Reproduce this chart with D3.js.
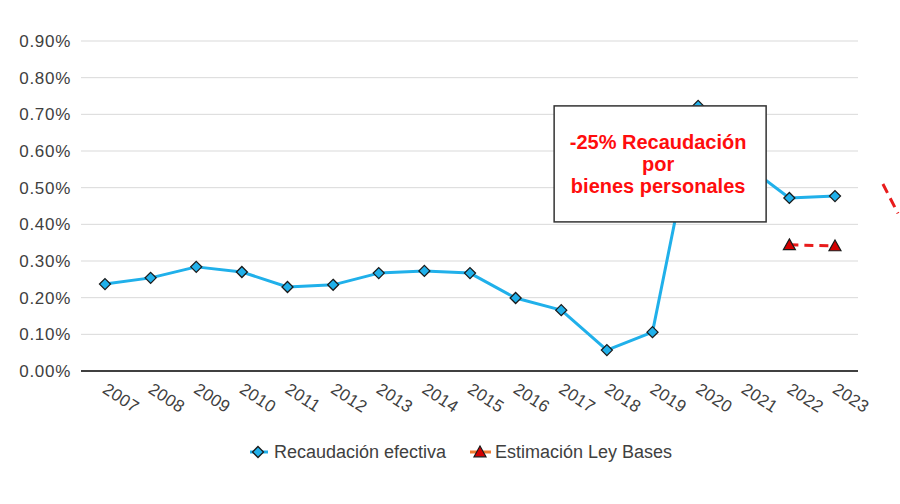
<!DOCTYPE html>
<html><head><meta charset="utf-8">
<script src="https://cdn.jsdelivr.net/npm/d3@7"></script>
<style>body{margin:0;background:#fff;} svg{display:block;font-family:"Liberation Sans",Arial,sans-serif;}</style>
</head><body>
<svg id="c" width="900" height="504"></svg>
<script>
const years = ["2007","2008","2009","2010","2011","2012","2013","2014","2015","2016","2017","2018","2019","2020","2021","2022","2023"];
const recaudacion = [0.237,0.254,0.284,0.270,0.229,0.235,0.267,0.273,0.267,0.199,0.166,0.057,0.106,0.723,0.565,0.472,0.477];
const estimacionYears = ["2022","2023"];
const estimacion = [0.344,0.341];
const yTicks = [0,0.1,0.2,0.3,0.4,0.5,0.6,0.7,0.8,0.9];
const annotationLines = ["-25% Recaudación","por","bienes personales"];
const legendLabels = ["Recaudación efectiva","Estimación Ley Bases"];
// stray dashed stroke at right edge (category-index units, value)
const strayIdx = [17.05, 17.38];
const strayVal = [0.51, 0.43];

const svg = d3.select("#c");
const x = d3.scalePoint().domain(years).range([105,835]);
const step = x.step();
const xi = i => x(years[0]) + i*step;
const y = d3.scaleLinear().domain([0,0.9]).range([371,41]);
const plotL = 81, plotR = 858;
const FF = "Liberation Sans, Arial, sans-serif";

// gridlines
svg.append("g").selectAll("line").data(yTicks.filter(d=>d>0)).join("line")
  .attr("x1",plotL).attr("x2",plotR).attr("y1",d=>y(d)).attr("y2",d=>y(d))
  .attr("stroke","#d9d9d9").attr("stroke-width",1);

// y axis labels
const yAxis = d3.axisLeft(y).tickValues(yTicks).tickFormat(d=>d.toFixed(2)+"%").tickSize(0).tickPadding(10);
const gy = svg.append("g").attr("transform",`translate(${plotL},0)`).call(yAxis);
gy.select(".domain").remove();
gy.selectAll("text").attr("font-size",17).attr("fill","#404040").attr("font-family",FF)
  .attr("letter-spacing",0.7);

// x axis
const xAxis = d3.axisBottom(x).tickSize(0).tickPadding(0);
const gx = svg.append("g").attr("transform",`translate(0,${y(0)})`).call(xAxis);
gx.select(".domain").remove();
gx.selectAll("text").attr("font-size",17).attr("fill","#404040")
  .attr("font-family",FF).attr("letter-spacing",0.3)
  .attr("text-anchor","start").attr("dy",null).attr("y",null)
  .attr("transform","translate(-4,21) rotate(33)");
svg.append("line").attr("x1",plotL).attr("x2",plotR).attr("y1",y(0)).attr("y2",y(0))
  .attr("stroke","#404040").attr("stroke-width",2);

// main series
const blue = "#20b0ea";
const line = d3.line().x((d,i)=>x(years[i])).y(d=>y(d));
svg.append("path").datum(recaudacion).attr("d",line).attr("fill","none")
  .attr("stroke",blue).attr("stroke-width",3).attr("stroke-linejoin","round");
function diamondPath(s){ return `M0,${-s}L${s},0L0,${s}L${-s},0Z`; }
svg.append("g").selectAll("path").data(recaudacion).join("path")
  .attr("d",diamondPath(5.5))
  .attr("transform",(d,i)=>`translate(${x(years[i])},${y(d)})`)
  .attr("fill",blue).attr("stroke","#1a1a1a").attr("stroke-width",1.3);

// estimation series
const red = "#e81c1c";
const line2 = d3.line().x((d,i)=>x(estimacionYears[i])).y(d=>y(d));
svg.append("path").datum(estimacion).attr("d",line2).attr("fill","none")
  .attr("stroke",red).attr("stroke-width",3).attr("stroke-dasharray","9,6");
function triPath(s){ return `M0,${-s}L${s},${s*0.8}L${-s},${s*0.8}Z`; }
svg.append("g").selectAll("path").data(estimacion).join("path")
  .attr("d",triPath(6))
  .attr("transform",(d,i)=>`translate(${x(estimacionYears[i])},${y(d)})`)
  .attr("fill","#d40000").attr("stroke","#1a1a1a").attr("stroke-width",1.2);

// stray dashed stroke
svg.append("path").datum(strayIdx.map((v,i)=>[xi(v),y(strayVal[i])]))
  .attr("d",d3.line()).attr("fill","none").attr("stroke",red).attr("stroke-width",3).attr("stroke-dasharray","10,6");

// annotation box (anchored to 2020 point)
const bx = x("2020") - 144, by = y(recaudacion[13]);
svg.append("rect").attr("x",bx).attr("y",by).attr("width",212).attr("height",116)
  .attr("fill","#fff").attr("stroke","#333").attr("stroke-width",1.5);
svg.append("g").selectAll("text").data(annotationLines).join("text")
  .attr("x",bx+104).attr("y",(d,i)=>by+43+i*22)
  .attr("text-anchor","middle").attr("font-size",20).attr("font-weight","bold")
  .attr("font-family",FF).attr("fill","#ff0d0d").text(d=>d);

// legend
const lg = svg.append("g").attr("font-size",18).attr("fill","#404040").attr("font-family",FF);
const ly = 452;
lg.append("line").attr("x1",250).attr("x2",268).attr("y1",ly).attr("y2",ly).attr("stroke",blue).attr("stroke-width",3);
lg.append("path").attr("d",diamondPath(5.5)).attr("transform",`translate(258,${ly})`).attr("fill",blue).attr("stroke","#1a1a1a").attr("stroke-width",1.3);
lg.append("text").attr("x",274).attr("y",ly+6).text(legendLabels[0]);
lg.append("line").attr("x1",470).attr("x2",491).attr("y1",ly).attr("y2",ly).attr("stroke","#f07b30").attr("stroke-width",3);
lg.append("path").attr("d",triPath(6)).attr("transform",`translate(480,${ly})`).attr("fill","#d40000").attr("stroke","#1a1a1a").attr("stroke-width",1.2);
lg.append("text").attr("x",495).attr("y",ly+6).text(legendLabels[1]);
</script>
</body></html>
